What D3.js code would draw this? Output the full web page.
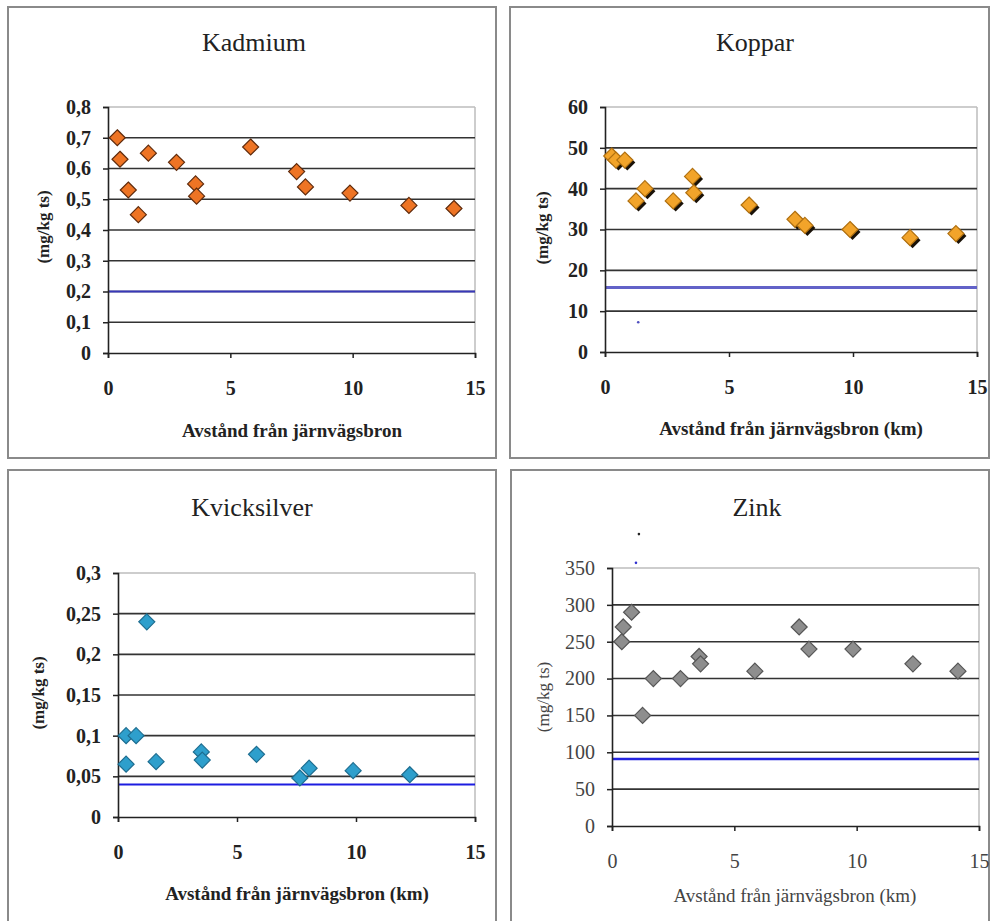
<!DOCTYPE html>
<html><head><meta charset="utf-8">
<script src="https://cdn.jsdelivr.net/npm/d3@7"></script>
<style>
body{margin:0;background:#fff;}
svg text{font-family:"Liberation Serif","Times New Roman","DejaVu Serif","Noto Serif",serif !important;}
</style></head>
<body><svg id="c" width="991" height="921"></svg>
<script>
// ---------- DATA ----------
const xTickValues = [0, 5, 10, 15];
const xTickLabels = ["0", "5", "10", "15"];

const titles = ["Kadmium", "Koppar", "Kvicksilver", "Zink"];
const xLabels = ["Avstånd från järnvägsbron", "Avstånd från järnvägsbron (km)",
                 "Avstånd från järnvägsbron (km)", "Avstånd från järnvägsbron (km)"];
const yLabel = "(mg/kg ts)";

const kadmiumX = [0.38, 0.49, 0.83, 1.24, 1.65, 2.8, 3.58, 3.62, 5.83, 7.71, 8.07, 9.89, 12.3, 14.14];
const kadmiumY = [0.70, 0.63, 0.53, 0.45, 0.65, 0.62, 0.55, 0.51, 0.67, 0.59, 0.54, 0.52, 0.48, 0.47];
const kadmiumTickValues = [0, 0.1, 0.2, 0.3, 0.4, 0.5, 0.6, 0.7, 0.8];
const kadmiumTickLabels = ["0", "0,1", "0,2", "0,3", "0,4", "0,5", "0,6", "0,7", "0,8"];
const kadmiumLimit = 0.2;

const kopparX = [0.27, 0.44, 0.8, 1.25, 1.61, 2.75, 3.53, 3.58, 5.81, 7.66, 8.06, 9.88, 12.3, 14.15];
const kopparY = [48, 47, 47, 37, 40, 37, 43, 39, 36, 32.5, 31, 30, 28, 29];
const kopparTickValues = [0, 10, 20, 30, 40, 50, 60];
const kopparTickLabels = ["0", "10", "20", "30", "40", "50", "60"];
const kopparLimit = 15.8;
const kopparStray = [[1.34, 7.3]];

const kvickX = [0.34, 0.76, 0.34, 1.21, 1.6, 3.5, 3.54, 5.82, 7.64, 8.03, 9.88, 12.26];
const kvickY = [0.1, 0.1, 0.065, 0.24, 0.068, 0.08, 0.07, 0.077, 0.048, 0.06, 0.057, 0.052];
const kvickTickValues = [0, 0.05, 0.1, 0.15, 0.2, 0.25, 0.3];
const kvickTickLabels = ["0", "0,05", "0,1", "0,15", "0,2", "0,25", "0,3"];
const kvickLimit = 0.04;

const zinkX = [0.4, 0.46, 0.8, 1.25, 1.69, 2.8, 3.56, 3.62, 5.84, 7.65, 8.05, 9.85, 12.3, 14.14];
const zinkY = [250, 270, 290, 150, 200, 200, 230, 220, 210, 270, 240, 240, 220, 210];
const zinkTickValues = [0, 50, 100, 150, 200, 250, 300, 350];
const zinkTickLabels = ["0", "50", "100", "150", "200", "250", "300", "350"];
const zinkLimit = 91;
const zinkStray = [[0.98, 357], [1.1, 396]];

// ---------- LAYOUT / STYLE ----------
const panels = [
  {box:[8,7,488,451], plot:[108,475,107,353], title:[254,51], xl:[292,437], yl:[43,227],
   x:kadmiumX, y:kadmiumY, tv:kadmiumTickValues, tl:kadmiumTickLabels, lim:kadmiumLimit,
   fill:"#EE7424", stroke:"#5e2a0c", shadow:false, limColor:"#3838B8", limW:2.2, bold:true, stray:[], strayColor:[]},
  {box:[510,7,479,451], plot:[605,977,107,352], title:[755,51], xl:[791,435], yl:[542,228],
   x:kopparX, y:kopparY, tv:kopparTickValues, tl:kopparTickLabels, lim:kopparLimit,
   fill:"#F2A42A", stroke:"#b07010", shadow:true, limColor:"#6262C8", limW:3, bold:true, stray:kopparStray, strayColor:["#5050c0"]},
  {box:[8,470,488,455], plot:[118,475,573,817], title:[252,516], xl:[297,900], yl:[38,693],
   x:kvickX, y:kvickY, tv:kvickTickValues, tl:kvickTickLabels, lim:kvickLimit,
   fill:"#2E9FCC", stroke:"#1d6d90", shadow:false, limColor:"#1c1cE0", limW:2, bold:true, stray:[], strayColor:[]},
  {box:[511,470,478,455], plot:[612,979,568,826], title:[757,516], xl:[795,902], yl:[543,697],
   x:zinkX, y:zinkY, tv:zinkTickValues, tl:zinkTickLabels, lim:zinkLimit,
   fill:"#8E8E8E", stroke:"#555", shadow:false, limColor:"#2424E0", limW:2.5, bold:false, stray:zinkStray, strayColor:["#3030d0","#222"]}
];

const FONT = "Liberation Serif, DejaVu Serif, serif";
const svg = d3.select("#c");

panels.forEach((p, i) => {
  const g = svg.append("g");
  const [bx, by, bw, bh] = p.box;
  g.append("rect").attr("x", bx).attr("y", by).attr("width", bw).attr("height", bh)
    .attr("fill", "#fff").attr("stroke", "#8a8a8a").attr("stroke-width", 2);

  const [l, r, t, b] = p.plot;
  const xs = d3.scaleLinear().domain([0, 15]).range([l, r]);
  const ymax = p.tv[p.tv.length - 1];
  const ys = d3.scaleLinear().domain([0, ymax]).range([b, t]);

  g.append("line").attr("x1", xs(0)).attr("x2", xs(15)).attr("y1", ys(ymax)).attr("y2", ys(ymax))
    .attr("stroke", "#bdbdbd").attr("stroke-width", 1.5);
  g.append("line").attr("x1", xs(15)).attr("x2", xs(15)).attr("y1", ys(ymax)).attr("y2", ys(0))
    .attr("stroke", "#bdbdbd").attr("stroke-width", 1.5);

  g.selectAll(".grid").data(p.tv.filter(v => v > 0 && v < ymax)).enter().append("line")
    .attr("x1", xs(0)).attr("x2", xs(15)).attr("y1", d => ys(d)).attr("y2", d => ys(d))
    .attr("stroke", "#333").attr("stroke-width", 1.6);

  g.append("line").attr("x1", xs(0)).attr("x2", xs(15)).attr("y1", ys(p.lim)).attr("y2", ys(p.lim))
    .attr("stroke", p.limColor).attr("stroke-width", p.limW);

  const fw = p.bold ? "bold" : "normal";
  const tcol = p.bold ? "#222" : "#444";

  const yAxis = d3.axisLeft(ys).tickValues(p.tv).tickFormat((d, k) => p.tl[k]).tickSize(5).tickPadding(12);
  const ya = g.append("g").attr("transform", `translate(${xs(0)},0)`).call(yAxis).attr("font-family", FONT);
  ya.select(".domain").attr("stroke", "#222").attr("stroke-width", 1.6);
  ya.selectAll(".tick line").attr("stroke", "#222").attr("stroke-width", 1.5);
  ya.selectAll(".tick text").attr("font-size", 20).attr("font-weight", fw).attr("fill", tcol);

  const xAxis = d3.axisBottom(xs).tickValues(xTickValues).tickFormat((d, k) => xTickLabels[k]).tickSize(5).tickPadding(23);
  const xa = g.append("g").attr("transform", `translate(0,${ys(0)})`).call(xAxis).attr("font-family", FONT);
  xa.select(".domain").attr("stroke", "#222").attr("stroke-width", 1.6);
  xa.selectAll(".tick line").attr("stroke", "#222").attr("stroke-width", 1.5);
  xa.selectAll(".tick text").attr("font-size", 20).attr("font-weight", fw).attr("fill", tcol);

  const pts = p.x.map((xv, k) => [xv, p.y[k]]);
  const dia = (cx, cy, rr) => `M${cx},${cy - rr}L${cx + rr},${cy}L${cx},${cy + rr}L${cx - rr},${cy}Z`;
  if (p.shadow) {
    g.selectAll(".sh").data(pts).enter().append("path")
      .attr("d", d => dia(xs(d[0]) + 2.5, ys(d[1]) + 2.5, 8)).attr("fill", "#1a1208");
  }
  g.selectAll(".pt").data(pts).enter().append("path")
    .attr("d", d => dia(xs(d[0]), ys(d[1]), 8))
    .attr("fill", p.fill).attr("stroke", p.stroke).attr("stroke-width", 1.2);

  g.selectAll(".st").data(p.stray).enter().append("circle")
    .attr("cx", d => xs(d[0])).attr("cy", d => ys(d[1])).attr("r", 1.3)
    .attr("fill", (d, k) => p.strayColor[k]);

  g.append("text").attr("x", p.title[0]).attr("y", p.title[1]).attr("text-anchor", "middle")
    .attr("font-family", FONT).attr("font-size", 26).attr("fill", "#222").text(titles[i]);
  g.append("text").attr("x", p.xl[0]).attr("y", p.xl[1]).attr("text-anchor", "middle")
    .attr("font-family", FONT).attr("font-size", 19).attr("font-weight", fw).attr("fill", tcol).text(xLabels[i]);
  g.append("text").attr("transform", `translate(${p.yl[0] + 6},${p.yl[1]}) rotate(-90)`)
    .attr("font-family", FONT).attr("text-anchor", "middle").attr("font-size", 17).attr("font-weight", fw).attr("fill", tcol).text(yLabel);
});
</script></body></html>
